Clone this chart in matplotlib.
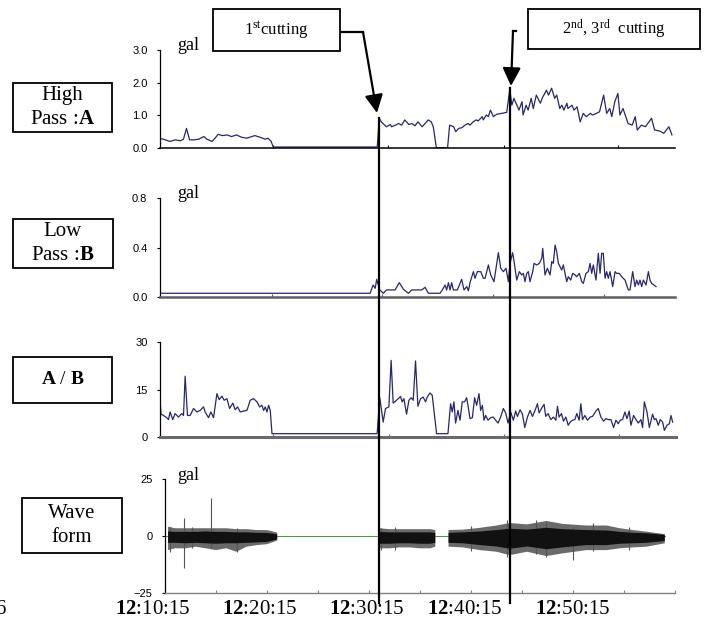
import numpy as np
import matplotlib
matplotlib.use("Agg")
import matplotlib.pyplot as plt
from matplotlib.patches import Rectangle, FancyArrowPatch
from matplotlib.lines import Line2D

plt.rcParams['font.family'] = ['Liberation Serif', 'DejaVu Serif']
plt.rcParams['mathtext.fontset'] = 'custom'
plt.rcParams['mathtext.rm'] = 'Liberation Serif'
plt.rcParams['mathtext.bf'] = 'Liberation Serif:bold'
plt.rcParams['mathtext.it'] = 'Liberation Serif:italic'

# time axis: minutes after 12:10:15
# High pass : A  (gal)
hp_t = [-0.5, 0.0, 0.5, 1.0, 1.5, 1.8, 2.1, 2.4, 2.8, 3.3,
        3.8, 4.1, 4.6, 4.9, 5.2, 5.6, 6.1, 6.5, 7.0, 7.5,
        8.0, 8.5, 8.8, 9.3, 9.8, 10.1, 10.4, 10.6, 20.8, 21.0,
        21.2, 21.7, 22.1, 22.2, 22.6, 22.9, 23.2, 23.5, 23.9, 24.2,
        24.5, 24.8, 25.2, 25.5, 25.8, 26.1, 26.3, 26.6, 27.7, 27.9,
        28.3, 28.5, 28.8, 29.1, 29.4, 29.7, 29.9, 30.2, 30.5, 30.7,
        31.1, 31.2, 31.5, 31.7, 31.9, 32.2, 32.5, 33.0, 33.5, 33.8,
        34.0, 34.2, 34.5, 34.7, 35.0, 35.1, 35.4, 35.6, 35.9, 36.1,
        36.4, 36.8, 37.0, 37.4, 37.6, 37.9, 38.2, 38.4, 38.7, 38.9,
        39.1, 39.4, 39.5, 39.9, 40.1, 40.4, 40.7, 41.0, 41.3, 41.7,
        41.9, 42.3, 42.6, 43.0, 43.3, 43.6, 43.8, 44.1, 44.4, 44.6,
        44.9, 45.4, 45.8, 46.1, 46.3, 46.7, 47.1, 47.7, 48.0, 48.5,
        48.9, 49.4, 49.7]
hp_v = [0.30, 0.25, 0.20, 0.25, 0.22, 0.27, 0.60, 0.25, 0.25, 0.27,
        0.35, 0.27, 0.20, 0.30, 0.42, 0.38, 0.40, 0.35, 0.40, 0.33,
        0.30, 0.35, 0.38, 0.33, 0.27, 0.30, 0.20, 0.03, 0.03, 0.91,
        0.80, 0.65, 0.72, 0.65, 0.70, 0.75, 0.70, 0.86, 0.72, 0.75,
        0.68, 0.80, 0.65, 0.75, 0.86, 0.80, 0.65, 0.01, 0.01, 0.70,
        0.65, 0.50, 0.60, 0.62, 0.70, 0.75, 0.70, 0.80, 0.86, 0.83,
        0.96, 0.86, 1.01, 0.96, 1.16, 0.96, 1.03, 1.06, 1.09, 1.80,
        1.31, 1.52, 1.31, 1.16, 1.42, 1.01, 1.31, 1.16, 1.52, 1.21,
        1.62, 1.37, 1.54, 1.77, 1.62, 1.83, 1.52, 1.62, 1.21, 1.31,
        1.16, 1.37, 1.21, 1.31, 1.16, 1.26, 0.80, 1.06, 0.96, 1.06,
        1.01, 1.06, 1.11, 1.62, 1.06, 1.21, 0.96, 1.42, 1.67, 1.01,
        1.21, 0.75, 0.70, 0.96, 0.55, 0.70, 0.65, 0.91, 0.55, 0.52,
        0.45, 0.65, 0.40]

# Low pass : B  (gal)
lp_t = [-0.5, 20.1, 20.4, 20.6, 20.75, 21.05, 21.4, 21.7, 22.1, 22.55,
        22.97, 23.37, 23.86, 24.18, 24.67, 25.16, 25.49, 25.82, 26.47, 26.96,
        27.22, 27.45, 27.61, 27.78, 27.94, 28.10, 28.27, 28.66, 28.92, 29.08,
        29.31, 29.58, 29.74, 29.90, 30.23, 30.39, 30.62, 30.95, 31.21, 31.37,
        31.54, 31.70, 31.93, 32.25, 32.45, 32.68, 32.91, 33.17, 33.43, 33.66,
        33.82, 34.08, 34.22, 34.48, 34.74, 34.97, 35.13, 35.29, 35.46, 35.62,
        35.78, 36.05, 36.18, 36.44, 36.70, 36.93, 37.03, 37.25, 37.48, 37.75,
        37.91, 38.07, 38.24, 38.40, 38.56, 38.73, 38.89, 39.05, 39.38, 39.54,
        39.77, 39.97, 40.20, 40.36, 40.62, 40.85, 41.01, 41.27, 41.50, 41.67,
        41.83, 41.99, 42.25, 42.48, 42.65, 42.81, 42.97, 43.14, 43.30, 43.46,
        43.63, 43.89, 44.12, 44.28, 44.54, 44.77, 45.10, 45.42, 45.59, 45.85,
        46.08, 46.24, 46.41, 46.57, 46.73, 46.90, 47.16, 47.39, 47.55, 47.71,
        48.14]
lp_v = [0.03, 0.03, 0.097, 0.07, 0.143, 0.057, 0.03, 0.057, 0.057, 0.057,
        0.116, 0.062, 0.03, 0.057, 0.057, 0.057, 0.078, 0.03, 0.03, 0.03,
        0.062, 0.097, 0.057, 0.116, 0.057, 0.116, 0.057, 0.057, 0.110, 0.143,
        0.057, 0.084, 0.05, 0.116, 0.205, 0.151, 0.205, 0.205, 0.151, 0.151,
        0.205, 0.259, 0.178, 0.124, 0.232, 0.358, 0.232, 0.205, 0.232, 0.124,
        0.272, 0.358, 0.286, 0.137, 0.205, 0.178, 0.191, 0.124, 0.191, 0.205,
        0.124, 0.205, 0.272, 0.259, 0.272, 0.312, 0.393, 0.178, 0.232, 0.178,
        0.286, 0.272, 0.420, 0.366, 0.272, 0.245, 0.218, 0.259, 0.124, 0.164,
        0.137, 0.191, 0.178, 0.164, 0.191, 0.124, 0.110, 0.191, 0.205, 0.272,
        0.191, 0.259, 0.137, 0.353, 0.191, 0.353, 0.353, 0.151, 0.205, 0.151,
        0.205, 0.084, 0.205, 0.191, 0.191, 0.164, 0.137, 0.057, 0.057, 0.205,
        0.084, 0.137, 0.097, 0.137, 0.084, 0.137, 0.097, 0.205, 0.137, 0.110,
        0.084]

# ratio A / B
ab_t = [-0.5, -0.4, -0.16, 0.16, 0.33, 0.49, 0.75, 0.98, 1.31, 1.63,
        1.80, 1.96, 2.19, 2.45, 2.78, 3.10, 3.43, 3.76, 3.92, 4.25,
        4.48, 4.74, 5.07, 5.29, 5.56, 5.78, 6.05, 6.31, 6.63, 6.86,
        7.09, 7.35, 7.68, 8.01, 8.33, 8.66, 8.99, 9.25, 9.48, 9.64,
        9.80, 9.97, 10.13, 10.29, 10.46,
        20.75, 21.01, 21.34, 21.57, 21.90, 22.12, 22.32, 22.65, 23.04, 23.20,
        23.37, 23.63, 23.86, 24.08, 24.28, 24.51, 24.74, 25.00, 25.26, 25.49,
        25.65, 25.92, 26.14, 26.31, 26.57, 27.68, 27.94, 28.10, 28.27, 28.43,
        28.66, 28.86, 29.08, 29.31, 29.51, 29.64, 29.84, 30.07, 30.29, 30.49,
        30.72, 30.88, 31.05, 31.21, 31.37, 31.60, 31.86, 32.12, 32.35, 32.58,
        32.84, 33.10, 33.33, 33.56, 33.82, 34.08, 34.31, 34.48, 34.74, 34.97,
        35.20, 35.46, 35.72, 35.95, 36.18, 36.44, 36.60, 36.83, 37.09, 37.25,
        37.48, 37.75, 38.01, 38.24, 38.40, 38.56, 38.79, 38.99, 39.22, 39.45,
        39.64, 39.87, 40.10, 40.29, 40.52, 40.69, 40.85, 41.08, 41.34, 41.60,
        41.83, 42.16, 42.39, 42.65, 42.91, 43.14, 43.37, 43.63, 43.89, 44.12,
        44.35, 44.54, 44.77, 45.00, 45.20, 45.42, 45.59, 45.85, 46.08, 46.31,
        46.57, 46.73, 46.90, 47.16, 47.39, 47.71, 47.88, 48.04, 48.27, 48.46,
        48.69, 48.86, 49.12, 49.35, 49.51, 49.67]
ab_v = [11.6, 7.2, 6.8, 6.1, 5.5, 7.9, 5.5, 7.4, 6.3, 7.4,
        6.8, 19.2, 6.8, 6.8, 9.0, 7.9, 8.4, 9.5, 7.9, 6.1,
        7.9, 6.1, 13.7, 11.8, 12.9, 11.6, 12.1, 9.0, 10.7, 8.6,
        9.5, 7.9, 8.2, 8.4, 11.6, 12.1, 11.1, 9.5, 10.0, 8.4,
        9.5, 7.9, 10.0, 8.4, 1.05,
        1.05, 12.4, 4.7, 9.0, 9.5, 24.2, 10.7, 11.6, 12.8, 11.1,
        12.1, 7.2, 11.6, 12.4, 11.6, 24.0, 9.7, 12.1, 12.6, 11.1,
        12.6, 13.9, 13.2, 8.4, 1.05, 1.05, 10.5, 7.9, 11.1, 4.4,
        8.4, 5.3, 11.1, 11.1, 12.4, 10.0, 5.8, 6.1, 12.4, 10.0,
        13.7, 8.4, 10.0, 5.3, 6.8, 5.3, 6.1, 6.3, 5.3, 4.4,
        6.3, 9.0, 7.6, 4.4, 7.9, 5.3, 8.2, 6.5, 8.6, 7.2,
        3.0, 6.3, 8.4, 6.5, 8.2, 10.5, 7.6, 9.0, 10.3, 6.5,
        7.4, 5.5, 6.3, 5.3, 9.7, 6.3, 7.4, 5.0, 6.3, 3.7,
        4.7, 5.3, 5.5, 7.4, 5.3, 10.5, 5.5, 6.8, 5.3, 6.3,
        6.5, 8.2, 9.0, 6.3, 5.0, 5.8, 5.5, 5.5, 3.0, 5.3,
        4.2, 5.3, 5.5, 7.9, 5.8, 8.2, 3.7, 6.8, 5.5, 4.4,
        5.5, 3.0, 11.1, 7.9, 3.0, 7.2, 5.5, 5.8, 3.7, 5.5,
        4.7, 2.1, 3.7, 4.2, 6.8, 4.7]

# wave form envelope (gal), nan = no record
nan = np.nan
wave_t = [0.3, 1.0, 2.0, 3.0, 4.0, 5.0, 6.0, 7.0, 8.0, 9.0, 10.0, 11.0, nan,
          21.0, 22.0, 23.0, 24.0, 25.0, 26.0, 26.5, nan,
          27.8, 29.2, 30.9, 32.5, 33.8, 35.5, 37.4, 39.0, 41.3, 43.3, 44.6, 45.9, 47.2, 49.0]
wave_hi = [4.1, 3.4, 3.4, 3.4, 3.4, 3.4, 3.4, 3.0, 3.0, 2.6, 2.6, 1.5, nan,
           3.4, 3.0, 3.0, 3.0, 3.0, 3.0, 2.6, nan,
           2.6, 2.8, 3.6, 4.6, 5.7, 5.1, 6.6, 5.3, 4.6, 4.6, 3.4, 2.6, 1.9, 0.8]
wave_lo = [-6.2, -5.4, -5.4, -4.7, -5.4, -6.2, -5.4, -6.9, -4.7, -4.0, -3.6, -2.0, nan,
           -5.4, -5.4, -5.0, -5.0, -5.4, -5.4, -4.7, nan,
           -4.7, -5.0, -6.2, -6.9, -8.4, -6.9, -8.8, -7.6, -6.2, -6.2, -5.4, -5.0, -4.7, -3.2]
core_hi = [2.0, 1.8, 1.8, 1.8, 2.0, 1.8, 1.8, 1.6, 1.6, 1.4, 1.3, 0.8, nan,
           1.8, 1.6, 1.6, 1.6, 1.6, 1.6, 1.4, nan,
           1.4, 1.6, 2.0, 2.6, 3.2, 2.8, 3.6, 3.0, 2.6, 2.4, 1.8, 1.4, 1.2, 0.5]
core_lo = [-3.0, -3.0, -3.2, -3.0, -3.2, -3.4, -3.2, -3.2, -3.0, -2.8, -2.6, -1.5, nan,
           -3.4, -3.4, -3.2, -3.2, -3.4, -3.4, -3.0, nan,
           -3.0, -3.2, -4.0, -4.6, -5.6, -4.6, -5.8, -5.0, -4.0, -4.0, -3.4, -3.2, -3.0, -2.2]
spike_t = [0.5, 1.9, 2.6, 4.5, 7.1, 21.2, 22.5, 30.0, 33.5, 36.4, 37.4, 40.0, 42.0, 45.5]
spike_hi = [4.1, 7.8, 4.1, 16.6, 3.4, 3.4, 3.8, 4.4, 6.8, 7.0, 6.0, 4.1, 5.5, 4.0]
spike_lo = [-6.9, -14.2, -5.4, -5.4, -6.9, -6.0, -6.0, -6.5, -9.0, -8.0, -9.4, -10.6, -6.5, -6.0]

cut_t = [21.0, 33.8]
cut_top = [0.91, 1.83]
time_labels = [':10:15', ':20:15', ':30:15', ':40:15', ':50:15']

W, H = 707, 621
def fx(px):
    return px / W
def fy(py):
    return 1 - py / H

navy = '#262673'
fig = plt.figure(figsize=(7.07, 6.21), dpi=100)

def panel(rect, ylim, yticks, ylabels, xticks, xcol, xlw, xlim=(-0.5, 50)):
    ax = fig.add_axes(rect)
    ax.patch.set_alpha(0)
    ax.set_xlim(*xlim)
    ax.set_ylim(*ylim)
    ax.spines['top'].set_visible(False)
    ax.spines['right'].set_visible(False)
    ax.spines['left'].set_linewidth(0.9)
    ax.spines['bottom'].set_color(xcol)
    ax.spines['bottom'].set_linewidth(xlw)
    ax.set_yticks(yticks)
    ax.set_yticklabels(ylabels, fontfamily='Liberation Sans', fontsize=8)
    ax.set_xticks(xticks)
    ax.tick_params(axis='y', direction='out', length=2.5, width=0.8, pad=6.5)
    ax.tick_params(axis='x', direction='in', length=2.5, width=0.8, color=xcol,
                   labelbottom=False)
    return ax

ax1 = panel([fx(160), fy(148), 515 / W, 98 / H], (0, 3), [0, 1, 2, 3],
            ['0.0', '1.0', '2.0', '3.0'], [10.6, 21.9, 33.2, 44.4], 'black', 1.1)
ax1.plot(hp_t, hp_v, color=navy, lw=0.9)

ax2 = panel([fx(160), fy(297), 515 / W, 99 / H], (0, 0.8), [0, 0.4, 0.8],
            ['0.0', '0.4', '0.8'], [10.5, 21.3, 32.2, 43.0], '#606060', 1.8)
ax2.plot(lp_t, lp_v, color=navy, lw=0.9)

ax3 = panel([fx(160), fy(437), 516 / W, 95 / H], (0, 30), [0, 15, 30],
            ['0', '15', '30'], [10.6, 21.9, 33.2, 44.4], '#6a6a6a', 2.2)
ax3.plot(ab_t, ab_v, color=navy, lw=0.9)

ax4 = panel([fx(165), fy(593), 510 / W, 114 / H], (-25, 25), [-25, 0, 25],
            ['\u221225', '0', '25'], np.arange(0, 51, 5), '#808080', 1.0, xlim=(0, 50))
ax4.axhline(0, xmin=0, xmax=0.98, color='#3f9a3f', lw=0.7, zorder=1)
ax4.fill_between(wave_t, wave_lo, wave_hi, color='#6a6a6a', lw=0, zorder=2)
ax4.fill_between(wave_t, core_lo, core_hi, color='#111111', lw=0, zorder=3)
ax4.vlines(spike_t, spike_lo, spike_hi, color='#555555', lw=0.8, zorder=2)

# bottom time labels
label_px = [153, 260, 367, 465, 573]
for px, lab in zip(label_px, time_labels):
    fig.text(fx(px), fy(609), r'$\mathbf{12}$' + lab, ha='center', va='center', fontsize=15)
fig.text(fx(5), fy(609), '6', ha='right', va='center', fontsize=15)

# gal units
for py in [45, 193, 475]:
    fig.text(fx(177), fy(py), 'gal', ha='left', va='center', fontsize=13)

# cutting lines
inv = fig.transFigure.inverted()
for t, top in zip(cut_t, cut_top):
    xf, yf = inv.transform(ax1.transData.transform((t, top)))
    fig.add_artist(Line2D([xf, xf], [yf, fy(603)], color='black', lw=1.6))

# boxes
boxes = [((213, 9, 340, 51), r'1$^{\rm st}$cutting', 12),
         ((528, 9, 700, 49), r'2$^{\rm nd}$, 3$^{\rm rd}$  cutting', 12),
         ((13, 83, 112, 132), 'High\nPass :$\\mathbf{A}$', 15),
         ((13, 219, 113, 268), 'Low\nPass :$\\mathbf{B}$', 15),
         ((13, 357, 112, 403), r'$\mathbf{A}$ / $\mathbf{B}$', 14),
         ((22, 498, 122, 553), 'Wave\nform', 15)]
for (l, t, r, b), txt, fs in boxes:
    fig.add_artist(Rectangle((fx(l), fy(b)), (r - l) / W, (b - t) / H,
                             transform=fig.transFigure, fill=False,
                             edgecolor='black', lw=1.3))
    fig.text(fx((l + r) / 2), fy((t + b) / 2), txt, ha='center', va='center',
             fontsize=fs, linespacing=1.3)

# arrows
fig.add_artist(Line2D([fx(341), fx(363)], [fy(32), fy(32)], color='black', lw=1.6))
fig.add_artist(FancyArrowPatch((fx(363), fy(32)), (fx(377), fy(113)),
                               transform=fig.transFigure, mutation_scale=1,
                               arrowstyle='-|>,head_length=11,head_width=5.5',
                               color='black', lw=1.6, shrinkA=0, shrinkB=0))
fig.add_artist(Line2D([fx(513), fx(516)], [fy(31), fy(31)], color='black', lw=1.6))
fig.add_artist(FancyArrowPatch((fx(513), fy(31)), (fx(511), fy(86)),
                               transform=fig.transFigure, mutation_scale=1,
                               arrowstyle='-|>,head_length=11,head_width=5.5',
                               color='black', lw=1.6, shrinkA=0, shrinkB=0))

fig.savefig('out.png', dpi=100)
